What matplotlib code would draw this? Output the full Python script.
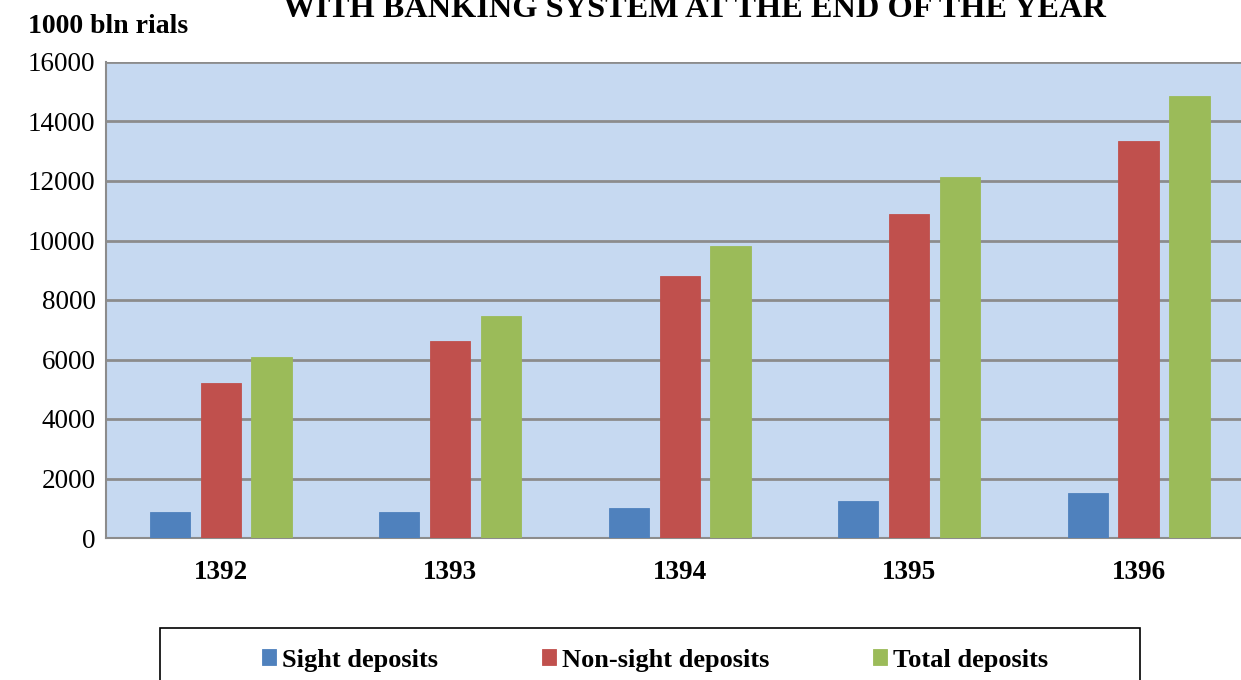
import matplotlib
matplotlib.use("Agg")
import matplotlib.pyplot as plt
import numpy as np
from matplotlib.patches import Rectangle

years = ["1392", "1393", "1394", "1395", "1396"]
sight = [860, 860, 1000, 1240, 1510]
non_sight = [5200, 6620, 8800, 10890, 13340]
total = [6070, 7470, 9810, 12130, 14860]
series_names = ["Sight deposits", "Non-sight deposits", "Total deposits"]
colors = ["#4F81BD", "#C0504D", "#9BBB59"]
title = "WITH BANKING SYSTEM AT THE END OF THE YEAR"
ylabel = "1000 bln rials"

plt.rcParams['font.family'] = ['Liberation Serif', 'DejaVu Serif']

fig = plt.figure(figsize=(12.41, 6.80), dpi=100)
ax = fig.add_axes([106/1241, 1-538/680, 1-106/1241 + 0.01, 476/680])
ax.set_facecolor("#C6D9F1")

x = np.arange(len(years))
w = 0.176
step = 0.222
for i, (vals, c, name) in enumerate(zip([sight, non_sight, total], colors, series_names)):
    ax.bar(x + (i-1)*step, vals, width=w, color=c, label=name, zorder=3,
           edgecolor=c, linewidth=0.6)

ax.set_xlim(-0.5, len(years)-0.5)
ax.set_ylim(0, 16000)
ax.set_yticks(np.arange(0, 16001, 2000))
ax.set_xticks(x)
ax.set_xticklabels(years, fontsize=19.5, fontweight='bold')
ax.tick_params(axis='y', labelsize=19.5, length=0, pad=7.5)
ax.tick_params(axis='x', length=0, pad=16)
ax.grid(axis='y', color='#8C8C8C', linewidth=2, zorder=1)
ax.set_axisbelow(True)
for s in ['left', 'bottom']:
    ax.spines[s].set_color('#8C8C8C')
    ax.spines[s].set_linewidth(1.5)
ax.spines['top'].set_visible(False)
ax.spines['right'].set_visible(False)

fig.text(694/1241, 1-17/680, title, ha='center', va='baseline', fontsize=23.3, fontweight='bold')
fig.text(28/1241, 1-33/680, ylabel, ha='left', va='baseline', fontsize=20, fontweight='bold')

# legend frame
fig.patches.append(Rectangle((160/1241, -0.05), 980/1241, 0.05 + 52/680, transform=fig.transFigure,
                             fill=False, edgecolor='black', linewidth=1.2))
handles, labels = ax.get_legend_handles_labels()
leg = fig.legend(handles, labels, loc='center', bbox_to_anchor=(655/1241, 1-660/680), ncol=3,
                 frameon=False, prop={'size': 19, 'weight': 'bold'}, handlelength=0.53,
                 handleheight=0.53, handletextpad=0.22, columnspacing=3.94)

fig.savefig("out.png", dpi=100)
